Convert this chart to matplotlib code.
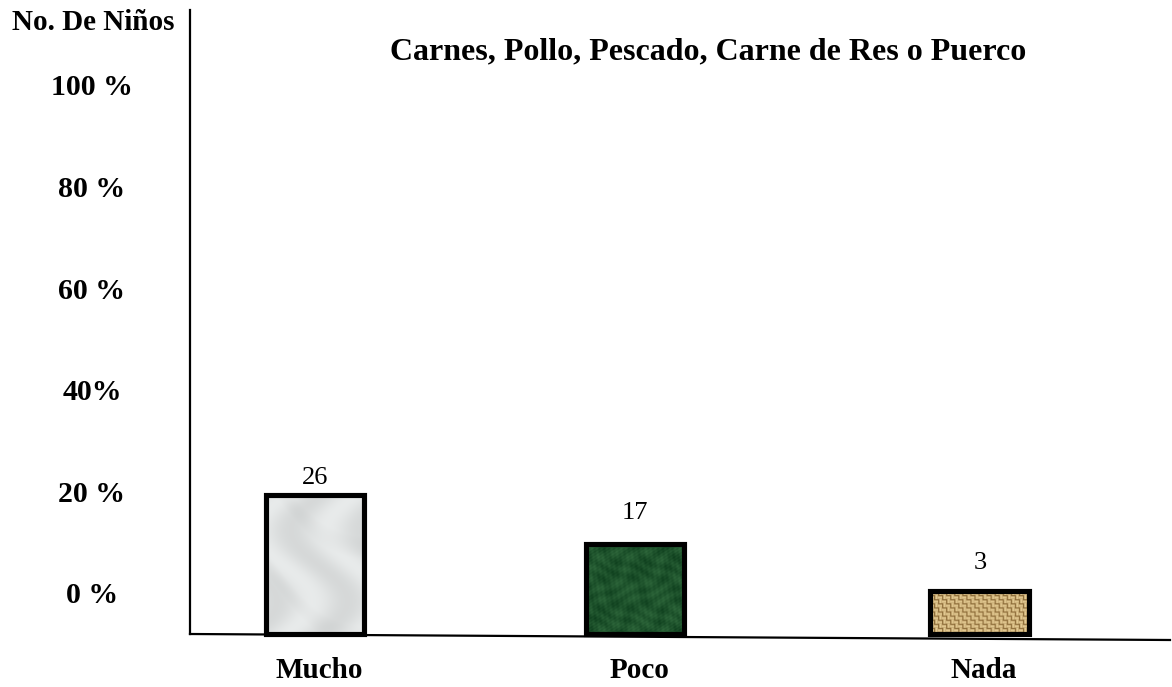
import numpy as np
import matplotlib.pyplot as plt
from matplotlib.transforms import blended_transform_factory

# data
categories = ["Mucho", "Poco", "Nada"]
counts = [26, 17, 3]
bar_tops = [19.8, 10.3, 0.9]          # bar tops on the drawn % scale
bar_base = -7.4                       # bars start below the 0 % label
y_labels = ["0 %", "20 %", "40%", "60 %", "80 %", "100 %"]
y_label_values = [0, 20, 40, 60, 80, 100]

# layout
bar_x = [0, 1, 2.078]
bar_width = 0.309
label_gap = [3.4, 6.0, 5.6]
serif = "Liberation Serif"


def marble(h, w):
    yy, xx = np.mgrid[0:h, 0:w]
    v = 0.91 + 0.035 * np.sin(xx * 0.09 + 2.5 * np.sin(yy * 0.045)) \
        - 0.05 * np.clip(np.sin(xx * 0.05 - yy * 0.07 + 1.5 * np.sin(xx * 0.03)), 0.7, 1)
    img = np.dstack([v, v + 0.01, v + 0.01])
    return np.clip(img, 0, 1)


def malachite(h, w):
    yy, xx = np.mgrid[0:h, 0:w]
    v = 0.5 + 0.3 * np.sin(xx * 0.21 + 2.0 * np.sin(yy * 0.13)) * np.sin(yy * 0.31 + np.sin(xx * 0.17))
    v += 0.2 * np.sin(xx * 1.3 + yy * 0.9) * np.sin(yy * 1.1)
    base = np.array([0.05, 0.24, 0.11])
    light = np.array([0.30, 0.55, 0.34])
    img = base + (light - base) * np.clip(v, 0, 1)[..., None] * 0.55
    return img


def burlap(h, w):
    yy, xx = np.mgrid[0:h, 0:w]
    cell = ((xx // 4) + (yy // 4)) % 2
    ridge = np.where(cell == 0, np.abs(np.sin(xx * np.pi / 4)), np.abs(np.sin(yy * np.pi / 4)))
    dark = np.array([0.55, 0.42, 0.22])
    light = np.array([0.90, 0.80, 0.58])
    img = dark + (light - dark) * ridge[..., None]
    return img


textures = [marble, malachite, burlap]

fig = plt.figure(figsize=(11.72, 6.87), dpi=100)
ax = fig.add_axes([190 / 1172, 42 / 687, 980 / 1172, 635 / 687])
ax.axis("off")

bars = ax.bar(bar_x, np.array(bar_tops) - bar_base, bottom=bar_base, width=bar_width,
              facecolor="none", edgecolor="black", linewidth=3.7, zorder=3)

for bar, tex in zip(bars, textures):
    x0, y0 = bar.get_x(), bar.get_y()
    w, h = bar.get_width(), bar.get_height()
    img = tex(int(h * 5.08), int(w * 320))
    im = ax.imshow(img, extent=[x0, x0 + w, y0, y0 + h], aspect="auto",
                   interpolation="bilinear", zorder=2)
    im.set_clip_path(bar)

for x, top, n, gap in zip(bar_x, bar_tops, counts, label_gap):
    ax.text(x, top + gap, str(n), ha="center", va="center",
            fontsize=19, family=serif)

for x, cat in zip(bar_x, categories):
    ax.text(x + 0.013, -14.6, cat, ha="center", va="center", fontsize=21,
            family=serif, fontweight="bold", clip_on=False)

trans = blended_transform_factory(fig.transFigure, ax.transData)
for val, lab in zip(y_label_values, y_labels):
    ax.text(92 / 1172, val, lab, transform=trans, ha="center", va="center",
            fontsize=21.5, family=serif, fontweight="bold")

# hand drawn axes
ax.plot([0, 0], [(645 - 634) / 635, 1.0], color="black", lw=1.6,
        transform=ax.transAxes, clip_on=False)
ax.plot([0, 1], [(645 - 634) / 635, (645 - 640) / 635], color="black", lw=1.6,
        transform=ax.transAxes, clip_on=False)

ax.set_xlim(-0.3906, 2.672)
ax.set_ylim(-9.65, 115.35)

fig.text(93 / 1172, 1 - 22 / 687, "No. De Niños", ha="center", va="center",
         fontsize=21, family=serif, fontweight="bold")
fig.text(708 / 1172, 1 - 52 / 687, "Carnes, Pollo, Pescado, Carne de Res o Puerco",
         ha="center", va="center", fontsize=23, family=serif, fontweight="bold")

fig.savefig("out.png", dpi=100)
